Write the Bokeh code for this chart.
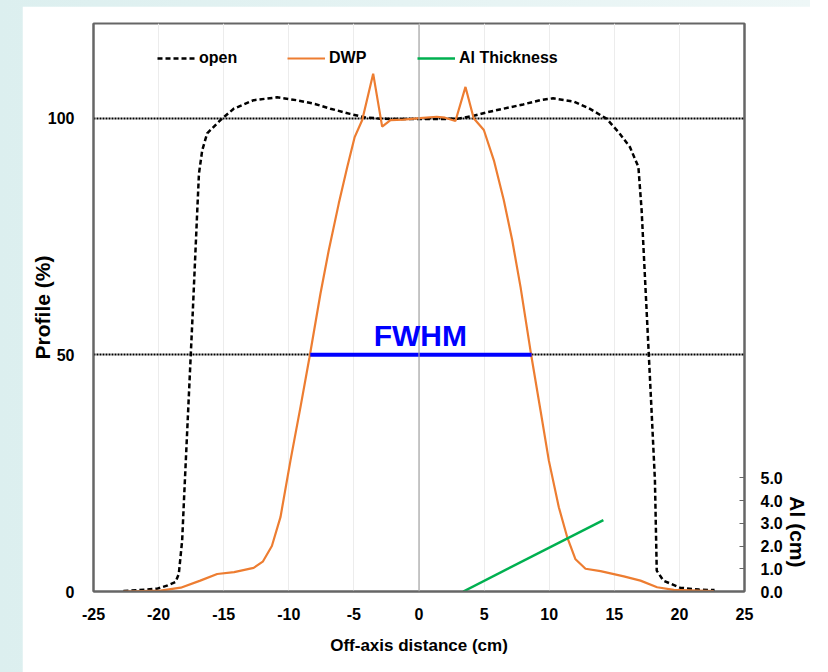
import math
from bokeh.plotting import figure
from bokeh.models import (Range1d, LinearAxis, FixedTicker, NumeralTickFormatter,
                          Legend, LegendItem, Label, Span, Column, Title)
from bokeh.embed import file_html
from bokeh.resources import INLINE

# ---------------- data ----------------
open_x = [-22.7, -21.5, -20.1, -19.3, -18.7, -18.45, -18.19, -18.04, -17.7, -17.36,
          -17.03, -16.9, -16.65, -16.27, -15.25, -14.23, -12.7, -10.9, -9.4, -8.0,
          -6.8, -5.3, -4.2, -3.0, -1.5, 0.0, 1.5, 3.0, 4.2, 5.3,
          6.5, 8.0, 9.3, 10.3, 11.9, 13.1, 14.4, 15.4, 16.2, 16.85,
          17.1, 17.47, 17.83, 18.12, 18.26, 18.77, 20.05, 21.5, 22.7]
open_y = [0.1, 0.3, 0.6, 1.3, 2.0, 3.7, 10.8, 20.0, 40.0, 60.0,
          80.5, 88.3, 93.2, 96.8, 99.6, 102.0, 103.8, 104.4, 103.8, 103.0,
          102.0, 100.9, 100.2, 99.9, 99.8, 99.8, 99.8, 99.9, 100.5, 101.3,
          102.0, 102.9, 103.8, 104.2, 103.5, 102.0, 99.9, 96.8, 93.9, 89.7,
          80.5, 60.0, 40.0, 23.5, 4.4, 2.3, 0.8, 0.4, 0.3]

dwp_x = [-22.7, -19.85, -18.3, -16.8, -15.5, -14.2, -12.7, -12.0, -11.3, -10.64,
         -9.87, -9.10, -8.41, -7.57, -6.93, -6.16, -5.51, -4.94, -4.36, -3.52,
         -2.83, -2.19, -1.2, 0.08, 1.36, 2.0, 2.8, 3.57, 4.2, 4.98,
         5.75, 6.51, 7.16, 7.80, 8.62, 9.33, 9.97, 10.74, 11.38, 12.02,
         12.79, 13.94, 15.73, 17.01, 18.29, 19.57, 22.64]
dwp_y = [0.0, 0.2, 0.8, 2.3, 3.7, 4.1, 5.0, 6.3, 9.6, 15.7,
         27.7, 39.0, 49.5, 62.9, 72.1, 82.0, 89.7, 96.0, 99.6, 109.4,
         98.2, 99.6, 99.7, 100.0, 100.3, 100.1, 99.4, 106.6, 100.0, 97.5,
         91.1, 82.7, 74.2, 64.3, 49.9, 38.3, 27.7, 17.8, 11.5, 6.8,
         4.8, 4.3, 3.2, 2.3, 0.9, 0.35, 0.1]

al_x = [3.4, 14.16]
al_y = [0.0, 3.14]

fwhm_x = [-8.35, 8.65]
fwhm_y = [50.0, 50.0]

x_ticks = [-25, -20, -15, -10, -5, 0, 5, 10, 15, 20, 25]
y_ticks = [0, 50, 100]
al_ticks = [0, 1, 2, 3, 4, 5]

# ---------------- styling ----------------
FONT = "'Liberation Sans', Arial, sans-serif"
ORANGE = "#ED7D31"
GREEN = "#00B050"
FRAME = "#666666"

p = figure(frame_width=651, frame_height=568,
           min_border_left=71, min_border_right=40, min_border_top=17, min_border_bottom=81,
           x_range=Range1d(-25, 25), y_range=Range1d(0, 120),
           output_backend="svg", toolbar_location=None,
           background_fill_color="white", border_fill_color="white")
p.margin = (6, 0, 0, 22)
p.extra_y_ranges = {"al": Range1d(0, 25)}
p.outline_line_color = FRAME
p.outline_line_width = 2

# x axis
p.xaxis.ticker = FixedTicker(ticks=x_ticks)
p.xaxis.major_label_overrides = {t: str(t) for t in x_ticks}
p.xaxis.axis_label = "Off-axis distance (cm)"
p.xaxis.major_tick_line_color = None
p.xaxis.minor_tick_line_color = None
p.xaxis.major_label_standoff = 10
p.xaxis.axis_label_standoff = 13

# y axis
p.yaxis.ticker = FixedTicker(ticks=y_ticks)
p.yaxis.axis_label = "Profile (%)"
p.yaxis.major_tick_line_color = None
p.yaxis.minor_tick_line_color = None
p.yaxis.major_label_standoff = 13
p.yaxis.axis_label_standoff = -9

for ax in (p.xaxis[0], p.yaxis[0]):
    ax.axis_line_color = FRAME
    ax.axis_line_width = 2
    ax.major_label_text_font = FONT
    ax.major_label_text_font_style = "bold"
    ax.major_label_text_font_size = "16px"
    ax.major_label_text_color = "black"
    ax.axis_label_text_font = FONT
    ax.axis_label_text_font_style = "bold"
    ax.axis_label_text_color = "black"
p.xaxis.axis_label_text_font_size = "17px"
p.yaxis.axis_label_text_font_size = "21px"

# right axis (Al thickness)
ax_r = LinearAxis(y_range_name="al", ticker=FixedTicker(ticks=al_ticks),
                  formatter=NumeralTickFormatter(format="0.0"))
ax_r.axis_line_color = FRAME
ax_r.axis_line_width = 2
ax_r.major_tick_in = 5
ax_r.major_tick_out = 0
ax_r.major_tick_line_color = FRAME
ax_r.minor_tick_line_color = None
ax_r.major_label_standoff = 16
ax_r.major_label_text_font = FONT
ax_r.major_label_text_font_style = "bold"
ax_r.major_label_text_font_size = "16px"
ax_r.major_label_text_color = "black"
p.add_layout(ax_r, "right")

# right axis title, placed in the lower part like the reference
p.add_layout(Title(text="Al (cm)", align="right", offset=24, standoff=0,
                   text_font=FONT, text_font_style="bold", text_font_size="21px",
                   text_color="black"), "right")

# grids
p.xgrid.ticker = FixedTicker(ticks=x_ticks)
p.xgrid.grid_line_color = "#ececec"
p.xgrid.grid_line_width = 1
p.ygrid.ticker = FixedTicker(ticks=[50, 100])
p.ygrid.grid_line_color = "black"
p.ygrid.grid_line_width = 2
p.ygrid.grid_line_dash = "2 1"

p.add_layout(Span(location=0, dimension="height", line_color="#a6a6a6", line_width=1.2))

# ---------------- data marks ----------------
r_open = p.line(open_x, open_y, line_color="black", line_width=2.5, line_dash="5 3")
r_dwp = p.line(dwp_x, dwp_y, line_color=ORANGE, line_width=2.2)
r_al = p.line(al_x, al_y, line_color=GREEN, line_width=2.5, y_range_name="al")
p.line(fwhm_x, fwhm_y, line_color="#0000FF", line_width=4)

p.add_layout(Label(x=0.1, y=54.1, text="FWHM", text_align="center", text_baseline="alphabetic",
                   text_font=FONT, text_font_style="bold", text_font_size="30px",
                   text_color="#0000FF"))

legend = Legend(items=[LegendItem(label="open", renderers=[r_open]),
                       LegendItem(label="DWP", renderers=[r_dwp]),
                       LegendItem(label="Al Thickness", renderers=[r_al])],
                orientation="horizontal", location=(64, 523),
                padding=0, margin=0, spacing=0,
                glyph_width=38, glyph_height=20, label_standoff=4, label_width=88,
                label_text_font=FONT, label_text_font_style="bold",
                label_text_font_size="16px", label_text_color="black",
                border_line_alpha=0, background_fill_alpha=0)
p.add_layout(legend)

root = Column(children=[p], styles={"background": "linear-gradient(to right, #dcefef, #eef7f7)"})

open("out.html", "w").write(file_html(root, INLINE))
